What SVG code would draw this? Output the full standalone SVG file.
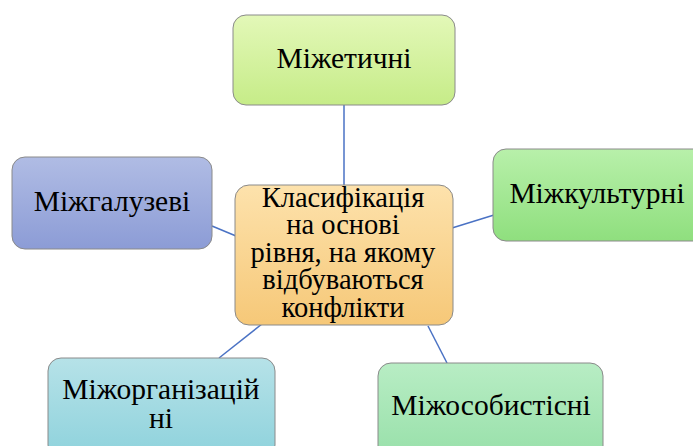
<svg xmlns="http://www.w3.org/2000/svg" width="693" height="446" viewBox="0 0 693 446">
<defs>
<linearGradient id="gTop" x1="0" y1="0" x2="0" y2="1"><stop offset="0" stop-color="#e3f8b8"/><stop offset="1" stop-color="#c6ec88"/></linearGradient>
<linearGradient id="gCen" x1="0" y1="0" x2="0" y2="1"><stop offset="0" stop-color="#fde2ac"/><stop offset="1" stop-color="#f6c878"/></linearGradient>
<linearGradient id="gLeft" x1="0" y1="0" x2="0" y2="1"><stop offset="0" stop-color="#b0bce4"/><stop offset="1" stop-color="#8c9cd6"/></linearGradient>
<linearGradient id="gRight" x1="0" y1="0" x2="0" y2="1"><stop offset="0" stop-color="#b8f0aa"/><stop offset="1" stop-color="#8fdf7e"/></linearGradient>
<linearGradient id="gBL" x1="0" y1="0" x2="0" y2="1"><stop offset="0" stop-color="#b6e2e8"/><stop offset="1" stop-color="#8ed2dc"/></linearGradient>
<linearGradient id="gBR" x1="0" y1="0" x2="0" y2="1"><stop offset="0" stop-color="#b8edc4"/><stop offset="1" stop-color="#96dfa8"/></linearGradient>
</defs>
<style>
.box{stroke:#8a8a8a;stroke-width:1}
.t{font-family:"Liberation Serif","Times New Roman",serif;font-size:29.5px;fill:#000;text-anchor:middle}
.c{font-family:"Liberation Serif","Times New Roman",serif;font-size:28.5px;fill:#000;text-anchor:middle}
.conn{stroke:#4a72c4;stroke-width:1.5;fill:none}
</style>
<g id="connectors">
<line class="conn" x1="344" y1="105" x2="344" y2="185"/>
<line class="conn" x1="212" y1="226" x2="236" y2="236"/>
<line class="conn" x1="452" y1="228" x2="494" y2="215"/>
<line class="conn" x1="219" y1="358" x2="262" y2="324"/>
<line class="conn" x1="447" y1="363" x2="428" y2="326"/>
</g>
<g id="node-top">
<rect class="box" x="233" y="15" width="222" height="90" rx="13" fill="url(#gTop)"/>
<text class="t" x="344" y="68">Міжетичні</text>
</g>
<g id="node-left">
<rect class="box" x="12" y="157" width="200" height="92" rx="13" fill="url(#gLeft)"/>
<text class="t" x="112" y="211">Міжгалузеві</text>
</g>
<g id="node-right">
<rect class="box" x="493" y="149" width="215" height="92" rx="13" fill="url(#gRight)"/>
<text class="t" x="597" y="203">Міжкультурні</text>
</g>
<g id="node-bottom-left">
<rect class="box" x="48" y="358" width="227" height="100" rx="13" fill="url(#gBL)"/>
<text class="t" x="161" y="399">Міжорганізацій</text>
<text class="t" x="161" y="428">ні</text>
</g>
<g id="node-bottom-right">
<rect class="box" x="378" y="363" width="225" height="100" rx="13" fill="url(#gBR)"/>
<text class="t" x="491" y="415">Міжособистісні</text>
</g>
<g id="node-center">
<rect class="box" x="235" y="185" width="218" height="140" rx="14" fill="url(#gCen)"/>
<text class="c" x="343" y="207">Класифікація</text>
<text class="c" x="343" y="234">на основі</text>
<text class="c" x="343" y="262">рівня, на якому</text>
<text class="c" x="343" y="289">відбуваються</text>
<text class="c" x="343" y="317">конфлікти</text>
</g>
</svg>
